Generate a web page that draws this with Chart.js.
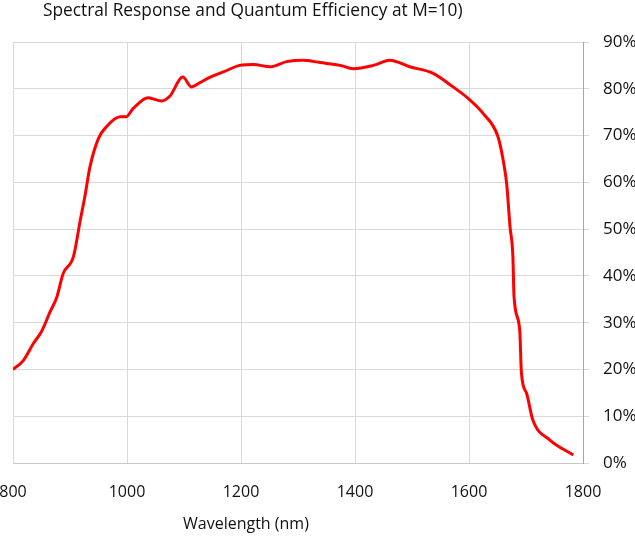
<!DOCTYPE html>
<html>
<head>
<meta charset="utf-8">
<script src="https://cdn.jsdelivr.net/npm/chart.js@4"></script>
<style>
  html, body { margin: 0; padding: 0; background: #fff; overflow: hidden; width: 635px; height: 541px; }
  #wrap { position: absolute; left: -30px; top: 0; width: 700px; height: 541px; }
  .lbl { position: absolute; font-family: 'Open Sans', sans-serif; color: #111; white-space: nowrap; }
  #title { left: 43px; top: -2px; font-size: 17.3px; }
  #xlabel { left: 183px; top: 512px; font-size: 16px; }
</style>
</head>
<body>
<div id="wrap"><canvas id="qeChart"></canvas></div>
<div id="title" class="lbl">Spectral Response and Quantum Efficiency at M=10)</div>
<div id="xlabel" class="lbl">Wavelength (nm)</div>
<script>
// valeurs
const wavelength = [800, 818, 836, 850, 865, 877, 888, 906, 918, 926, 935, 950, 964, 988, 998,
    1011, 1037, 1061, 1075, 1098, 1113, 1128, 1146, 1169, 1198, 1222, 1251, 1280, 1309, 1339,
    1374, 1397, 1432, 1461, 1496, 1537, 1572, 1599, 1625, 1651, 1660, 1666, 1672, 1677, 1679,
    1689, 1692, 1701, 1712, 1742, 1783];
const qe = [20.0, 21.9, 25.6, 28.1, 32.3, 35.5, 40.5, 44.1, 51.9, 56.9, 63.3, 69.4, 71.9, 74.0, 74.0,
    75.8, 78.1, 77.4, 78.4, 82.5, 80.4, 81.3, 82.5, 83.6, 85.0, 85.2, 84.7, 85.8, 86.1, 85.6,
    85.0, 84.3, 85.0, 86.1, 84.7, 83.3, 80.4, 77.9, 74.7, 69.7, 64.7, 59.8, 50.5, 44.1, 35.5,
    28.4, 19.2, 14.9, 9.2, 4.9, 1.7];
const xTicks = [800, 1000, 1200, 1400, 1600, 1800];
const yTicks = [0, 10, 20, 30, 40, 50, 60, 70, 80, 90];

const points = wavelength.map((w, i) => ({ x: w, y: qe[i] }));

const ctx = document.getElementById('qeChart').getContext('2d');
new Chart(ctx, {
    type: 'line',
    data: {
        datasets: [{
            data: points,
            borderColor: '#ff0000',
            borderWidth: 3,
            pointRadius: 0,
            cubicInterpolationMode: 'monotone',
            fill: false
        }]
    },
    options: {
        responsive: true,
        maintainAspectRatio: false,
        animation: false,
        layout: { padding: { left: 43, top: 42, right: 0, bottom: 0 } },
        plugins: { legend: { display: false }, tooltip: { enabled: false } },
        scales: {
            x: {
                type: 'linear',
                min: 800,
                max: 1800,
                afterBuildTicks: s => { s.ticks = xTicks.map(v => ({ value: v })); },
                afterFit: s => { s.height = 78; },
                grid: { color: '#d9d9d9', lineWidth: 1, drawTicks: false },
                border: { color: '#c8c8c8', width: 1 },
                ticks: {
                    padding: 20,
                    color: '#111',
                    font: { family: 'Open Sans', size: 16 },
                    callback: v => String(v)
                }
            },
            y: {
                position: 'right',
                min: 0,
                max: 90,
                afterBuildTicks: s => { s.ticks = yTicks.map(v => ({ value: v })); },
                afterFit: s => { s.width = 87; },
                grid: { color: '#d9d9d9', lineWidth: 1, tickLength: 6 },
                border: { color: '#a6a6a6', width: 1 },
                ticks: {
                    padding: 14,
                    color: '#111',
                    font: { family: 'Open Sans', size: 17 },
                    callback: v => v + '%'
                }
            }
        }
    }
});
</script>
</body>
</html>
